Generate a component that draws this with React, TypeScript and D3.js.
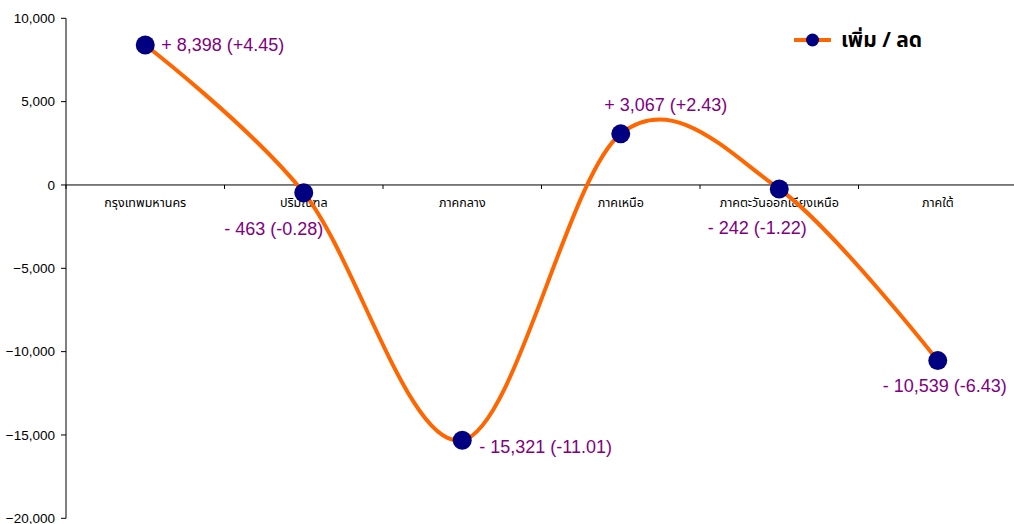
import * as d3 from 'd3'

// regions (x categories)
const REGIONS = ['กรุงเทพมหานคร', 'ปริมณฑล', 'ภาคกลาง', 'ภาคเหนือ', 'ภาคตะวันออกเฉียงเหนือ', 'ภาคใต้']
// change in count, and percent change
const CHANGE = [8398, -463, -15321, 3067, -242, -10539]
const PCT = [4.45, -0.28, -11.01, 2.43, -1.22, -6.43]
const Y_TICKS = [-20000, -15000, -10000, -5000, 0, 5000, 10000]
const SERIES_NAME = 'เพิ่ม / ลด'

const W = 1014
const H = 524
// plot area runs a few px past the window on the right, like the original
const MARGIN = { top: 18.3, right: -3, bottom: 5.7, left: 66 }

// where each data label sits relative to its point (Excel label placement, hand-nudged)
const LABEL_POS = [
  { dx: 16, dy: 6, anchor: 'start' },
  { dx: -30, dy: 42, anchor: 'middle' },
  { dx: 17, dy: 13, anchor: 'start' },
  { dx: 45, dy: -23, anchor: 'middle' },
  { dx: -22, dy: 45, anchor: 'middle' },
  { dx: 7, dy: 31, anchor: 'middle' },
]

const ORANGE = '#FF6600'
const NAVY = '#000080'
const PURPLE = '#800080'
const THAI_FONT = 'Tahoma, "Noto Sans Thai", "Noto Sans", Arial, sans-serif'

function fmtLabel(v: number, p: number) {
  const sign = v < 0 ? '- ' : '+ '
  const pct = p < 0 ? `${p.toFixed(2)}` : `+${p.toFixed(2)}`
  return `${sign}${d3.format(',')(Math.abs(v))} (${pct})`
}

export default function App() {
  const x = d3.scaleBand<string>()
    .domain(REGIONS)
    .range([MARGIN.left, W - MARGIN.right])

  const y = d3.scaleLinear()
    .domain([-20000, 10000])
    .range([H - MARGIN.bottom, MARGIN.top])

  const cx = (i: number) => (x(REGIONS[i]) ?? 0) + x.bandwidth() / 2

  const line = d3.line<number>()
    .x((_, i) => cx(i))
    .y(d => y(d))
    .curve(d3.curveCardinal.tension(0))

  const y0 = y(0)
  const boundaries = d3.range(REGIONS.length + 1).map(i => MARGIN.left + i * x.bandwidth())

  return (
    <div>
      <style>{'body{margin:0}'}</style>
      <svg width={W} height={H} style={{ display: 'block', fontFamily: 'Arial, "Liberation Sans", sans-serif' }}>
        {/* y axis */}
        <line x1={MARGIN.left} x2={MARGIN.left} y1={y(10000)} y2={y(-20000)} stroke="#000" strokeWidth={1} />
        {Y_TICKS.map(t => (
          <g key={t}>
            <line x1={MARGIN.left - 5} x2={MARGIN.left} y1={y(t)} y2={y(t)} stroke="#000" />
            <text x={MARGIN.left - 11} y={y(t)} dy="0.35em" textAnchor="end" fontSize={13.5} fill="#000">
              {d3.format(',')(t)}
            </text>
          </g>
        ))}

        {/* category axis at zero */}
        <line x1={MARGIN.left} x2={W} y1={y0} y2={y0} stroke="#000" />
        {boundaries.map(b => (
          <line key={b} x1={b} x2={b} y1={y0} y2={y0 + 4} stroke="#000" />
        ))}
        {REGIONS.map((r, i) => (
          <text key={r} x={cx(i)} y={y0 + 22} textAnchor="middle" fontSize={12.5}
            fontFamily={THAI_FONT} fill="#000">
            {r}
          </text>
        ))}

        {/* smoothed line */}
        <path d={line(CHANGE) ?? ''} fill="none" stroke={ORANGE} strokeWidth={4} />
        {CHANGE.map((v, i) => (
          <circle key={i} cx={cx(i)} cy={y(v)} r={9.5} fill={NAVY} />
        ))}

        {/* data labels */}
        {CHANGE.map((v, i) => (
          <text key={i} x={cx(i) + LABEL_POS[i].dx} y={y(v) + LABEL_POS[i].dy}
            textAnchor={LABEL_POS[i].anchor as any} fontSize={18} fill={PURPLE}>
            {fmtLabel(v, PCT[i])}
          </text>
        ))}

        {/* legend */}
        <g transform="translate(794,40)">
          <line x1={0} x2={37} y1={0} y2={0} stroke={ORANGE} strokeWidth={4} />
          <circle cx={18.5} cy={0} r={6.5} fill={NAVY} />
          <text x={47} y={0} dy="0.35em" fontSize={21} fontWeight="bold" fill="#000" fontFamily={THAI_FONT}>
            {SERIES_NAME}
          </text>
        </g>
      </svg>
    </div>
  )
}
